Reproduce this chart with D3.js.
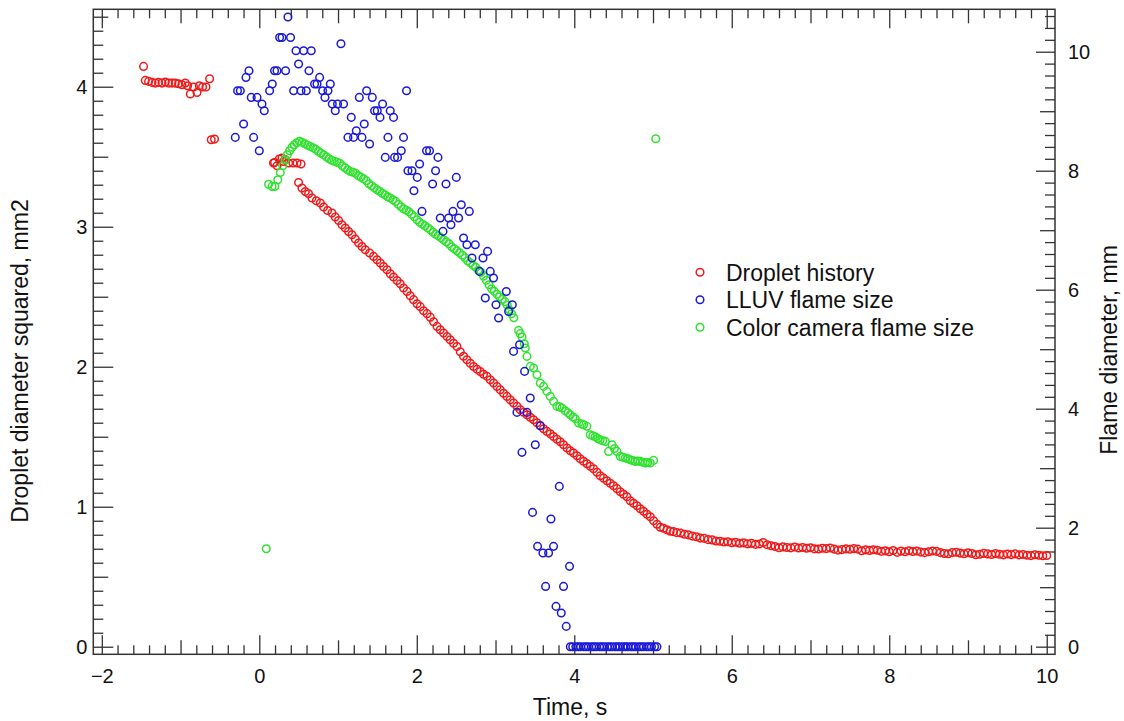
<!DOCTYPE html>
<meta charset="utf-8">
<html>
<head>
<script src="https://d3js.org/d3.v7.min.js"></script>
<style>
  body { margin: 0; background: white; }
  text { font-family: "Liberation Sans", Arial, sans-serif; fill: #111; }
</style>
</head>
<body>
<div id="chart"></div>
<script>

// droplet diameter squared, mm^2 (left axis) : [time s, d^2]
const dropletPts = [
  [-1.47,4.145],[-1.448,4.045],[-1.406,4.038],[-1.363,4.031],[-1.321,4.026],[-1.279,4.031],[-1.236,4.026],
  [-1.194,4.034],[-1.152,4.026],[-1.109,4.026],[-1.067,4.026],[-1.025,4.021],[-0.982,4.014],[-0.94,4.026],
  [-0.91,4.007],[-0.876,3.948],[-0.834,3.998],[-0.791,3.959],[-0.762,4.007],[-0.72,3.998],[-0.677,3.998],
  [-0.631,4.057],[-0.61,3.621],[-0.568,3.626],
  [0.18,3.455],[0.194,3.459],[0.225,3.436],[0.254,3.484],[0.288,3.491],[0.309,3.466],[0.33,3.479],
  [0.372,3.455],[0.428,3.455],[0.479,3.455],[0.53,3.448],
  [0.499,3.316],[0.542,3.276],[0.584,3.252],[0.626,3.236],[0.669,3.205],[0.724,3.186],[0.775,3.169],
  [0.817,3.141],[0.867,3.116],[0.923,3.098],[0.965,3.069],[1.007,3.045],[1.05,3.014],[1.092,2.991],
  [1.134,2.966],[1.177,2.943],[1.219,2.912],[1.261,2.884],[1.304,2.859],[1.346,2.836],[1.401,2.812],
  [1.451,2.788],[1.495,2.764],[1.537,2.741],[1.578,2.716],[1.622,2.693],[1.663,2.664],[1.705,2.641],
  [1.749,2.616],[1.79,2.593],[1.832,2.562],[1.876,2.538],[1.917,2.507],[1.959,2.479],[2.003,2.45],
  [2.044,2.429],[2.086,2.4],[2.13,2.379],[2.171,2.354],[2.213,2.321],[2.257,2.288],[2.298,2.264],
  [2.34,2.241],[2.384,2.216],[2.425,2.193],[2.467,2.168],[2.51,2.145],[2.552,2.107],[2.594,2.075],
  [2.637,2.05],[2.679,2.025],[2.721,2.002],[2.765,1.982],[2.806,1.966],[2.848,1.946],[2.891,1.931],
  [2.933,1.907],[2.975,1.884],[3.018,1.859],[3.06,1.836],[3.102,1.811],[3.145,1.788],[3.187,1.764],
  [3.229,1.741],[3.272,1.718],[3.314,1.693],[3.356,1.675],[3.399,1.657],[3.441,1.639],[3.483,1.621],
  [3.526,1.6],[3.568,1.579],[3.61,1.557],[3.653,1.538],[3.695,1.521],[3.737,1.502],[3.78,1.482],
  [3.822,1.464],[3.864,1.443],[3.907,1.419],[3.949,1.4],[3.991,1.384],[4.034,1.364],[4.076,1.343],
  [4.118,1.325],[4.161,1.307],[4.203,1.289],[4.245,1.271],[4.288,1.246],[4.33,1.221],[4.372,1.204],
  [4.415,1.186],[4.457,1.168],[4.499,1.15],[4.542,1.129],[4.584,1.107],[4.626,1.089],[4.669,1.071],
  [4.711,1.043],[4.753,1.025],[4.796,1.007],[4.838,0.986],[4.88,0.968],[4.923,0.946],[4.965,0.929],
  [5.007,0.9],[5.05,0.875],[5.092,0.854],[5.134,0.846],[5.177,0.836],[5.219,0.825],
  [5.26,0.822],[5.3,0.815],[5.35,0.812],[5.4,0.803],[5.45,0.799],[5.5,0.79],[5.55,0.786],[5.6,0.776],
  [5.65,0.774],[5.7,0.765],[5.75,0.763],[5.8,0.755],[5.85,0.754],[5.9,0.748],[5.95,0.75],[6.0,0.743],
  [6.05,0.746],[6.1,0.739],[6.15,0.742],[6.2,0.735],[6.25,0.738],[6.3,0.731],[6.35,0.734],[6.4,0.744],
  [6.45,0.729],[6.5,0.721],[6.55,0.716],[6.6,0.707],[6.65,0.713],[6.7,0.709],[6.75,0.706],[6.8,0.712],
  [6.85,0.705],[6.9,0.709],[6.95,0.703],[7.0,0.707],[7.05,0.699],[7.1,0.698],[7.15,0.704],[7.2,0.701],
  [7.25,0.705],[7.3,0.697],[7.35,0.69],[7.4,0.694],[7.45,0.699],[7.5,0.696],[7.55,0.701],[7.6,0.697],
  [7.65,0.686],[7.7,0.692],[7.75,0.688],[7.8,0.693],[7.85,0.689],[7.9,0.681],[7.95,0.685],[8.0,0.679],
  [8.05,0.687],[8.1,0.674],[8.15,0.683],[8.2,0.678],[8.25,0.686],[8.3,0.68],[8.35,0.684],[8.4,0.676],
  [8.45,0.672],[8.5,0.679],[8.55,0.684],[8.6,0.681],[8.65,0.672],[8.7,0.666],[8.75,0.664],[8.8,0.672],
  [8.85,0.675],[8.9,0.669],[8.95,0.664],[9.0,0.671],[9.05,0.666],[9.1,0.657],[9.15,0.661],[9.2,0.667],
  [9.25,0.663],[9.3,0.659],[9.35,0.666],[9.4,0.661],[9.45,0.656],[9.5,0.662],[9.55,0.658],[9.6,0.663],
  [9.65,0.656],[9.7,0.659],[9.75,0.653],[9.8,0.651],[9.85,0.657],[9.9,0.654],[9.95,0.65],[10.0,0.652]
];

// LLUV flame diameter, mm (right axis)
const lluvPts = [
  [-0.305,8.56],[-0.276,9.345],[-0.241,9.345],[-0.199,8.785],[-0.169,9.568],[-0.131,9.681],[-0.102,9.232],
  [-0.072,8.56],[-0.029,9.232],[0.0,8.336],[0.034,9.121],[0.063,9.008],[0.131,9.345],[0.165,9.457],
  [0.194,9.681],[0.225,9.681],[0.258,10.24],[0.288,10.24],[0.334,9.681],[0.364,10.583],[0.397,10.24],
  [0.436,9.345],[0.466,10.017],[0.499,9.793],[0.53,9.345],[0.563,10.017],[0.597,9.345],[0.631,9.681],
  [0.66,10.017],[0.702,9.457],[0.733,9.457],[0.766,9.568],[0.804,9.345],[0.834,9.232],[0.872,9.345],
  [0.902,9.457],[0.927,9.121],[0.965,9.008],[0.994,9.121],[1.037,10.134],[1.07,9.121],[1.126,8.56],
  [1.168,8.896],[1.197,8.56],[1.232,8.672],[1.27,9.232],[1.304,8.56],[1.333,8.785],[1.363,9.345],
  [1.401,8.449],[1.435,9.232],[1.464,9.008],[1.498,9.008],[1.533,8.896],[1.566,9.121],[1.6,8.224],
  [1.634,8.56],[1.663,9.008],[1.705,8.896],[1.718,8.224],[1.756,8.224],[1.803,8.336],[1.832,8.56],
  [1.87,9.345],[1.888,8.0],[1.939,8.0],[1.964,7.664],[2.006,7.888],[2.036,8.113],[2.066,7.316],
  [2.124,8.336],[2.162,8.336],[2.201,7.776],[2.239,8.0],[2.269,8.224],[2.298,7.205],[2.333,6.98],
  [2.371,7.776],[2.404,7.205],[2.434,7.092],[2.46,7.316],[2.502,7.888],[2.531,7.205],[2.565,7.429],
  [2.594,6.869],[2.637,6.756],[2.667,7.316],[2.701,6.533],[2.743,6.756],[2.797,6.308],[2.841,6.533],
  [2.87,5.861],[2.899,6.644],[2.933,6.308],[2.975,6.197],[3.006,5.748],[3.039,5.524],[3.137,5.971],
  [3.166,5.635],[3.213,5.748],[3.229,4.963],[3.272,3.938],[3.305,5.076],[3.336,3.266],[3.369,4.627],
  [3.399,3.938],[3.441,4.18],[3.47,2.257],[3.505,3.395],[3.534,1.686],[3.568,3.714],[3.602,1.575],
  [3.636,1.013],[3.674,1.575],[3.704,2.146],[3.737,1.686],[3.768,0.677],[3.81,2.694],[3.835,0.566],
  [3.864,1.013],[3.898,0.341],[3.94,1.35],
  [3.95,0],[3.98,0],[4.02,0],[4.05,0],[4.08,0],[4.12,0],[4.15,0],[4.18,0],[4.22,0],[4.25,0],[4.28,0],
  [4.32,0],[4.35,0],[4.38,0],[4.42,0],[4.45,0],[4.48,0],[4.52,0],[4.55,0],[4.58,0],[4.62,0],[4.65,0],
  [4.68,0],[4.72,0],[4.75,0],[4.78,0],[4.82,0],[4.85,0],[4.88,0],[4.92,0],[4.95,0],[4.98,0],[5.02,0],[5.05,0]
];

// colour camera flame diameter, mm (right axis)
const colorCamPts = [
  [0.089,1.647],[5.035,8.538],
  [0.118,7.773],[0.161,7.736],[0.197,7.736],[0.235,7.849],[0.267,7.971],[0.298,8.084],[0.33,8.185],
  [0.356,8.269],[0.385,8.336],[0.415,8.395],[0.444,8.437],[0.476,8.471],[0.508,8.496],[0.542,8.479],
  [0.578,8.454],[0.613,8.429],[0.648,8.408],[0.682,8.387],[0.715,8.361],[0.749,8.328],[0.783,8.294],
  [0.817,8.269],[0.851,8.235],[0.885,8.202],[0.918,8.176],[0.952,8.16],[0.987,8.143],[1.02,8.126],
  [1.054,8.084],[1.088,8.05],[1.121,8.017],[1.156,7.988],[1.19,7.975],[1.223,7.958],[1.257,7.916],
  [1.291,7.891],[1.324,7.866],[1.359,7.832],[1.393,7.782],[1.426,7.748],[1.46,7.714],[1.495,7.681],
  [1.528,7.655],[1.562,7.622],[1.596,7.597],[1.629,7.563],[1.663,7.541],[1.698,7.513],[1.731,7.484],
  [1.765,7.437],[1.799,7.395],[1.832,7.361],[1.867,7.336],[1.901,7.311],[1.934,7.269],[1.968,7.227],
  [2.003,7.176],[2.036,7.134],[2.07,7.101],[2.104,7.076],[2.137,7.042],[2.171,7.008],[2.206,6.966],
  [2.239,6.933],[2.273,6.908],[2.307,6.874],[2.34,6.84],[2.375,6.807],[2.409,6.773],[2.442,6.723],
  [2.476,6.689],[2.51,6.655],[2.543,6.622],[2.578,6.58],[2.612,6.538],[2.645,6.487],[2.679,6.454],
  [2.714,6.412],[2.747,6.378],[2.781,6.328],[2.815,6.294],[2.848,6.227],[2.883,6.16],[2.917,6.084],
  [2.95,6.017],[2.984,5.975],[3.018,5.924],[3.051,5.882],[3.086,5.84],[3.12,5.798],[3.149,5.739],
  [3.175,5.664],[3.204,5.597],[3.232,5.529],[3.293,5.316],[3.314,5.261],[3.336,5.205],[3.365,5.092],
  [3.378,5.02],[3.399,4.879],[3.441,4.711],[3.483,4.684],[3.526,4.571],[3.568,4.432],[3.61,4.375],
  [3.653,4.291],[3.695,4.207],[3.737,4.123],[3.78,4.039],[3.815,4.03],[3.844,4.012],[3.886,3.966],
  [3.921,3.93],[3.949,3.899],[3.985,3.86],[4.013,3.832],[4.055,3.76],[4.097,3.742],[4.118,3.731],
  [4.161,3.703],[4.203,3.563],[4.235,3.545],[4.267,3.529],[4.298,3.5],[4.33,3.479],[4.362,3.462],
  [4.394,3.45],[4.436,3.282],[4.479,3.395],[4.51,3.33],[4.542,3.282],[4.584,3.198],[4.616,3.185],
  [4.648,3.171],[4.68,3.16],[4.711,3.143],[4.743,3.128],[4.775,3.114],[4.806,3.12],[4.838,3.114],
  [4.87,3.1],[4.902,3.087],[4.933,3.095],[4.965,3.087],[5.007,3.131]
];

const seriesNames = ["Droplet history", "LLUV flame size", "Color camera flame size"];
const seriesColors = ["#f01a1a", "#1a1ad6", "#2fe22f"];

const xTickLabels = [-2, 0, 2, 4, 6, 8, 10];
const xMidTicks = [-1, 1, 3, 5, 7, 9];
const leftTickLabels = [0, 1, 2, 3, 4];
const leftMidTicks = [0.5, 1.5, 2.5, 3.5, 4.5];
const rightTickLabels = [0, 2, 4, 6, 8, 10];
const rightMidTicks = [1, 3, 5, 7, 9];

// layout
const marginL = 93.3, marginT = 9.3;
const W = 961.7, H = 645;
const tickCol = "#333";

const svg = d3.select("#chart").append("svg")
    .attr("width", 1124)
    .attr("height", 721);

const g = svg.append("g")
    .attr("transform", "translate(" + marginL + "," + marginT + ")");

const x = d3.scaleLinear().domain([-2.108, 10.105]).range([0, W]);
const yL = d3.scaleLinear().domain([-0.054, 4.553]).range([H, 0]);
const yR = d3.scaleLinear().domain([-0.128, 10.713]).range([H, 0]);

// minor tick positions (tick marks only)
const notNear = (step) => (v) => Math.abs(v / step - Math.round(v / step)) > 1e-6;
const xMinor = d3.range(-2, 10.001, 0.2).filter(notNear(1));
const leftMinor = d3.range(0, 4.55, 0.1).filter(notNear(0.5));
const rightMinor = d3.range(0, 10.65, 0.2).filter(notNear(1));

// one set of inward ticks
function addTicks(axisFn, scale, vals, len, pad, labels, tx, ty) {
    const ax = axisFn(scale)
        .tickValues(vals)
        .tickSizeInner(-len)
        .tickSizeOuter(0)
        .tickPadding(pad)
        .tickFormat(labels ? (d => d < 0 ? "\u2212" + Math.abs(d) : d) : "");
    const a = g.append("g")
        .attr("transform", "translate(" + tx + "," + ty + ")")
        .call(ax);
    a.select(".domain").remove();
    a.selectAll("line").attr("stroke", tickCol).attr("stroke-width", 1.3);
    a.selectAll("text").style("font-size", "20px").attr("fill", "#111");
    return a;
}

// bottom + top
addTicks(d3.axisBottom, x, xTickLabels, 19, 14.5, true, 0, H);
addTicks(d3.axisBottom, x, xMidTicks, 14, 0, false, 0, H);
addTicks(d3.axisBottom, x, xMinor, 9, 0, false, 0, H);
addTicks(d3.axisTop, x, xTickLabels, 19, 0, false, 0, 0);
addTicks(d3.axisTop, x, xMidTicks, 14, 0, false, 0, 0);
addTicks(d3.axisTop, x, xMinor, 9, 0, false, 0, 0);

// left
addTicks(d3.axisLeft, yL, leftTickLabels, 20, 6, true, 0, 0);
addTicks(d3.axisLeft, yL, leftMidTicks, 15, 0, false, 0, 0);
addTicks(d3.axisLeft, yL, leftMinor, 10, 0, false, 0, 0);

// right
addTicks(d3.axisRight, yR, rightTickLabels, 19, 13, true, W, 0);
addTicks(d3.axisRight, yR, rightMidTicks, 15, 0, false, W, 0);
addTicks(d3.axisRight, yR, rightMinor, 10, 0, false, W, 0);

// frame
g.append("rect")
    .attr("x", 0).attr("y", 0)
    .attr("width", W).attr("height", H)
    .attr("fill", "none")
    .attr("stroke", tickCol)
    .attr("stroke-width", 1.5);

// markers
const r = 3.8;
function drawPts(pts, yScale, col) {
    g.append("g").selectAll("circle")
        .data(pts)
        .enter()
        .append("circle")
        .attr("cx", d => x(d[0]))
        .attr("cy", d => yScale(d[1]))
        .attr("r", r)
        .attr("fill", "none")
        .attr("stroke", col)
        .attr("stroke-width", 1.5);
}
drawPts(dropletPts, yL, seriesColors[0]);
drawPts(colorCamPts, yR, seriesColors[2]);
drawPts(lluvPts, yR, seriesColors[1]);

// axis titles
svg.append("text")
    .attr("x", 570).attr("y", 715)
    .attr("text-anchor", "middle")
    .style("font-size", "23px")
    .text("Time, s");

svg.append("text")
    .attr("transform", "translate(28,361) rotate(-90)")
    .attr("text-anchor", "middle")
    .style("font-size", "23px")
    .text("Droplet diameter squared, mm2");

svg.append("text")
    .attr("transform", "translate(1117,350) rotate(-90)")
    .attr("text-anchor", "middle")
    .style("font-size", "23px")
    .text("Flame diameter, mm");

// legend
const leg = svg.append("g").attr("transform", "translate(700,272.3)");
seriesNames.forEach((name, i) => {
    leg.append("circle")
        .attr("cx", 0).attr("cy", i * 27.5)
        .attr("r", r)
        .attr("fill", "none")
        .attr("stroke", seriesColors[i])
        .attr("stroke-width", 1.5);
    leg.append("text")
        .attr("x", 26).attr("y", i * 27.5)
        .attr("dy", "0.36em")
        .style("font-size", "23px")
        .text(name);
});

</script>
</body>
</html>
